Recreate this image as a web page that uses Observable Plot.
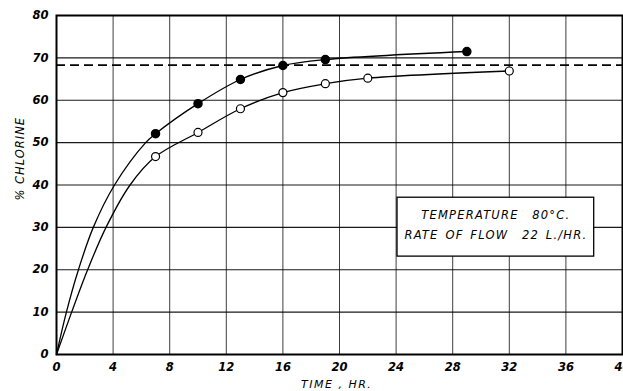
<!DOCTYPE html>
<html>
<head>
<meta charset="utf-8">
<script src="https://cdn.jsdelivr.net/npm/d3@7"></script>
<script src="https://cdn.jsdelivr.net/npm/@observablehq/plot@0.6"></script>
<style>
  html, body { margin: 0; padding: 0; background: #fff; }
  #chart svg { display: block; }
</style>
</head>
<body>
<div id="chart"></div>
<script>
// Measured points (filled circles)
const timeFilled = [7, 10, 13, 16, 19, 29];
const chlorineFilled = [52.1, 59.2, 64.9, 68.2, 69.6, 71.5];
// Measured points (open circles)
const timeOpen = [7, 10, 13, 16, 19, 22, 32];
const chlorineOpen = [46.7, 52.4, 58.0, 61.8, 63.9, 65.2, 66.9];
// Curve lead-in from the origin
const leadFilledTime = [0, 0.7, 1.55, 2.6, 4.1, 6.3];
const leadFilledChlorine = [0, 10, 20, 30, 40, 50];
const leadOpenTime = [0, 1.07, 2.2, 3.5, 5.2];
const leadOpenChlorine = [0, 10, 20, 30, 40];
// Dashed reference level
const dashedLevel = 68.3;
// Ticks
const xTicks = [0, 4, 8, 12, 16, 20, 24, 28, 32, 36, 40];
const yTicks = [0, 10, 20, 30, 40, 50, 60, 70, 80];
// Annotation
const noteLines = ["TEMPERATURE  80°C.", "RATE OF FLOW  22 L./HR."];
const noteBox = {x1: 24.1, x2: 38.0, y1: 23.1, y2: 37.0};
const noteY = [32.8, 28.1];
// Axis titles (placed in data space, outside the frame)
const xTitle = {s: "TIME , HR.", x: 19.8, y: -7.15};
const yTitle = {s: "% CHLORINE", x: -2.55, y: 46.2};

const filledPts = timeFilled.map((t, i) => ({t, c: chlorineFilled[i]}));
const openPts = timeOpen.map((t, i) => ({t, c: chlorineOpen[i]}));
const filledCurve = leadFilledTime.map((t, i) => ({t, c: leadFilledChlorine[i]})).concat(filledPts);
const openCurve = leadOpenTime.map((t, i) => ({t, c: leadOpenChlorine[i]})).concat(openPts);
const notes = noteLines.map((s, i) => ({s, y: noteY[i]}));

const chart = Plot.plot({
  width: 623,
  height: 391,
  marginLeft: 56,
  marginRight: 1,
  marginTop: 15,
  marginBottom: 37,
  x: {domain: [0, 40]},
  y: {domain: [0, 80]},
  style: {fontFamily: "DejaVu Sans", fontSize: "11.5px", fontStyle: "italic", fontWeight: "bold", color: "#000", background: "#fff"},
  marks: [
    Plot.ruleX(xTicks, {stroke: "#000", strokeWidth: 0.9, strokeOpacity: 0.85}),
    Plot.ruleY(yTicks, {stroke: "#000", strokeWidth: 1.2, strokeOpacity: 0.9}),
    Plot.ruleY([dashedLevel], {stroke: "#000", strokeWidth: 1.6, strokeDasharray: "9,5"}),
    Plot.line(filledCurve, {x: "t", y: "c", curve: "catmull-rom", stroke: "#000", strokeWidth: 1.3}),
    Plot.line(openCurve, {x: "t", y: "c", curve: "catmull-rom", stroke: "#000", strokeWidth: 1.3}),
    Plot.dot(filledPts, {x: "t", y: "c", r: 4, fill: "#000", stroke: "#000"}),
    Plot.dot(openPts, {x: "t", y: "c", r: 4, fill: "#fff", stroke: "#000", strokeWidth: 1.2}),
    Plot.rect([noteBox], {x1: "x1", x2: "x2", y1: "y1", y2: "y2", fill: "#fff", stroke: "#000", strokeWidth: 1.3}),
    Plot.text(notes, {x: (noteBox.x1 + noteBox.x2) / 2, y: "y", text: "s", fontSize: 11.5, fontWeight: "normal", fontStyle: "italic", textAnchor: "middle", fill: "#000", className: "note"}),
    Plot.frame({stroke: "#000", strokeWidth: 2}),
    Plot.axisX({ticks: xTicks, tickSize: 0, tickPadding: 8, label: null, tickFormat: d => String(d)}),
    Plot.axisY({ticks: yTicks, tickSize: 0, tickPadding: 8, label: null, tickFormat: d => String(d)}),
    Plot.text([xTitle], {x: "x", y: "y", text: "s", fontWeight: "normal", fontSize: 11, fill: "#000", className: "xtitle"}),
    Plot.text([yTitle], {x: "x", y: "y", text: "s", rotate: -90, fontWeight: "normal", fontSize: 11.5, fill: "#000", className: "ytitle"})
  ]
});
chart.querySelectorAll(".note text").forEach(t => { t.style.letterSpacing = "1.2px"; t.style.wordSpacing = "2px"; });
chart.querySelectorAll(".xtitle text").forEach(t => { t.style.letterSpacing = "1.5px"; });
chart.querySelectorAll(".ytitle text").forEach(t => { t.style.letterSpacing = "1px"; });
document.getElementById("chart").appendChild(chart);
</script>
</body>
</html>
